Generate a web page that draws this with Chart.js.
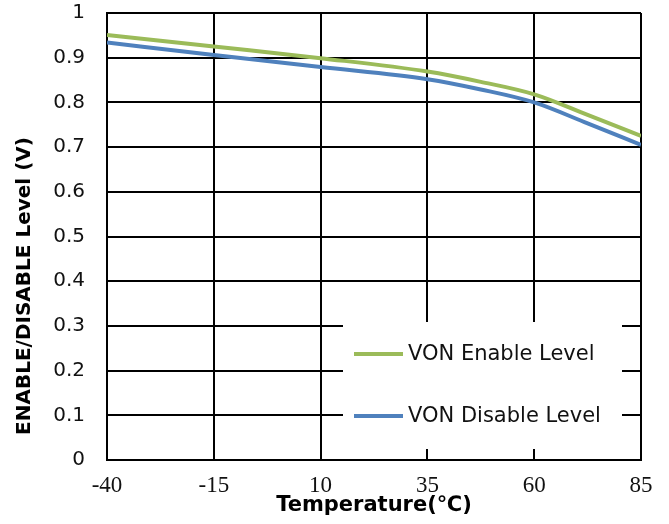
<!DOCTYPE html>
<html>
<head>
<meta charset="utf-8">
<title>VON Enable/Disable Level vs Temperature</title>
<script src="https://cdn.jsdelivr.net/npm/chart.js@4"></script>
<style>
  body { margin: 0; background: #fff; }
  canvas { display: block; }
</style>
</head>
<body>
<canvas id="levelChart" width="669" height="524"></canvas>
<script>
// temperature (°C) and threshold levels (V)
const temperature = [-40, -15, 10, 35, 47.5, 60, 72.5, 85];
const enableLevel = [0.951, 0.925, 0.899, 0.869, 0.846, 0.818, 0.772, 0.725];
const disableLevel = [0.934, 0.906, 0.879, 0.852, 0.829, 0.800, 0.753, 0.705];
const tempTicks = [-40, -15, 10, 35, 60, 85];
const yTitle = "ENABLE/DISABLE Level (V)";

// legend drawn inside the plot, on a white box over the grid
const boxLegend = {
    id: "boxLegend",
    afterDatasetsDraw(chart) {
        const ctx = chart.ctx;
        const area = chart.chartArea;
        const left = area.right - 298;
        const top = area.bottom - 138;
        ctx.save();
        ctx.fillStyle = "#fff";
        ctx.fillRect(left, top, 279, 127);
        ctx.font = "21px 'DejaVu Sans'";
        ctx.textBaseline = "middle";
        chart.data.datasets.forEach(function (ds, i) {
            const y = top + 32 + i * 62;
            ctx.strokeStyle = ds.borderColor;
            ctx.lineWidth = 4;
            ctx.beginPath();
            ctx.moveTo(left + 11, y);
            ctx.lineTo(left + 60, y);
            ctx.stroke();
            ctx.fillStyle = "#111";
            ctx.fillText(ds.label, left + 65, y + 1);
        });
        ctx.restore();
    }
};

// y axis title sits a bit below the middle of the axis
const sideTitle = {
    id: "sideTitle",
    afterDraw(chart) {
        const ctx = chart.ctx;
        const area = chart.chartArea;
        ctx.save();
        ctx.translate(25, area.bottom - 174);
        ctx.rotate(-Math.PI / 2);
        ctx.font = "bold 20px 'DejaVu Sans'";
        ctx.fillStyle = "#000";
        ctx.textAlign = "center";
        ctx.textBaseline = "middle";
        ctx.fillText(yTitle, 0, 0);
        ctx.restore();
    }
};

const ctx = document.getElementById("levelChart").getContext("2d");
new Chart(ctx, {
    type: "line",
    data: {
        labels: temperature,
        datasets: [{
            label: "VON Enable Level",
            data: temperature.map((t, i) => ({ x: t, y: enableLevel[i] })),
            borderColor: "#9BBB59",
            borderWidth: 4,
            pointRadius: 0,
            fill: false,
            cubicInterpolationMode: "monotone"
        }, {
            label: "VON Disable Level",
            data: temperature.map((t, i) => ({ x: t, y: disableLevel[i] })),
            borderColor: "#4F81BD",
            borderWidth: 4,
            pointRadius: 0,
            fill: false,
            cubicInterpolationMode: "monotone"
        }]
    },
    options: {
        responsive: false,
        animation: false,
        devicePixelRatio: 1,
        layout: { padding: { left: 0, top: 13, right: 28, bottom: 0 } },
        plugins: {
            legend: { display: false },
            tooltip: { enabled: false }
        },
        scales: {
            x: {
                type: "linear",
                min: -40,
                max: 85,
                afterBuildTicks: s => { s.ticks = tempTicks.map(v => ({ value: v })); },
                afterFit: s => {
                    s.height = 64;
                    s.paddingLeft = 0;
                    s.paddingRight = 0;
                },
                grid: { color: "#000", lineWidth: 2, drawTicks: false },
                border: { color: "#000", width: 2 },
                ticks: {
                    color: "#111",
                    padding: 12,
                    maxRotation: 0,
                    autoSkip: false,
                    font: { family: "'Liberation Serif'", size: 23 }
                },
                title: {
                    display: true,
                    text: "Temperature(℃)",
                    color: "#000",
                    padding: { top: 0, bottom: 6 },
                    font: { family: "'DejaVu Sans'", size: 21, weight: "bold" }
                }
            },
            y: {
                min: 0,
                max: 1,
                afterFit: s => {
                    s.width = 107;
                    s.paddingTop = 0;
                    s.paddingBottom = 0;
                },
                grid: { color: "#000", lineWidth: 2, drawTicks: false },
                border: { color: "#000", width: 2 },
                ticks: {
                    stepSize: 0.1,
                    color: "#111",
                    padding: 22,
                    font: { family: "'DejaVu Sans'", size: 20 },
                    callback: v => String(Number(v.toFixed(1)))
                }
            }
        }
    },
    plugins: [boxLegend, sideTitle]
});
</script>
</body>
</html>
